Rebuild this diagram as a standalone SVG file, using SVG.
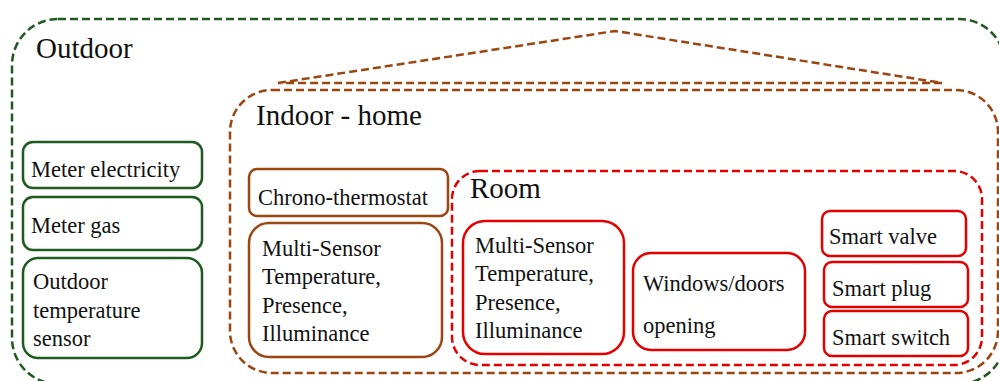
<svg xmlns="http://www.w3.org/2000/svg" width="999" height="381" viewBox="0 0 999 381">
<style>
.grp{fill:none;stroke-width:2.5;stroke-dasharray:8 4}
.g{stroke:#1f5a1f}
.b{stroke:#9b4611}
.r{stroke:#e30000}
.box{fill:#fff;stroke-width:2.5}
.lbl{font-family:"Liberation Serif","Times New Roman",serif;font-size:29px;fill:#111}
.t{font-family:"Liberation Serif","Times New Roman",serif;font-size:22.5px;fill:#111}
</style>
<rect x="0" y="0" width="999" height="381" fill="#fff"/>
<g id="outdoor">
<rect class="grp g" x="12" y="19" width="993" height="365" rx="46"/>
<text class="lbl" x="36" y="58">Outdoor</text>
</g>
<g id="indoor-home">
<polygon class="grp b" points="278,83 615,31 942,83"/>
<rect class="grp b" x="230" y="90" width="768" height="283" rx="42"/>
<text class="lbl" x="256" y="125">Indoor - home</text>
</g>
<g id="room">
<rect class="grp r" x="452" y="171" width="530" height="194" rx="28"/>
<text class="lbl" x="470" y="198">Room</text>
</g>
<g id="meter-electricity">
<rect class="box g" x="23" y="142" width="179" height="46" rx="10"/>
<text class="t" x="31" y="177">Meter electricity</text>
</g>
<g id="meter-gas">
<rect class="box g" x="23" y="197" width="179" height="53" rx="10"/>
<text class="t" x="31" y="233">Meter gas</text>
</g>
<g id="outdoor-temp">
<rect class="box g" x="23" y="258" width="179" height="100" rx="15"/>
<text class="t" x="33" y="289">Outdoor</text>
<text class="t" x="33" y="318">temperature</text>
<text class="t" x="33" y="346">sensor</text>
</g>
<g id="chrono">
<rect class="box b" x="249" y="169" width="199" height="47" rx="8"/>
<text class="t" x="258" y="205">Chrono-thermostat</text>
</g>
<g id="multisensor-home">
<rect class="box b" x="249" y="223" width="193" height="134" rx="20"/>
<text class="t" x="262" y="256">Multi-Sensor</text>
<text class="t" x="262" y="284">Temperature,</text>
<text class="t" x="262" y="313">Presence,</text>
<text class="t" x="262" y="341">Illuminance</text>
</g>
<g id="multisensor-room">
<rect class="box r" x="463" y="221" width="161" height="133" rx="22"/>
<text class="t" x="475" y="253">Multi-Sensor</text>
<text class="t" x="475" y="281">Temperature,</text>
<text class="t" x="475" y="310">Presence,</text>
<text class="t" x="475" y="338">Illuminance</text>
</g>
<g id="windows">
<rect class="box r" x="633" y="253" width="172" height="97" rx="18"/>
<text class="t" x="643" y="291">Windows/doors</text>
<text class="t" x="643" y="333">opening</text>
</g>
<g id="smart-valve">
<rect class="box r" x="822" y="211" width="144" height="45" rx="8"/>
<text class="t" x="829" y="244">Smart valve</text>
</g>
<g id="smart-plug">
<rect class="box r" x="824" y="262" width="144" height="45" rx="8"/>
<text class="t" x="832" y="296">Smart plug</text>
</g>
<g id="smart-switch">
<rect class="box r" x="824" y="311" width="144" height="45" rx="8"/>
<text class="t" x="832" y="345">Smart switch</text>
</g>
<g id="connectors"></g>
</svg>
